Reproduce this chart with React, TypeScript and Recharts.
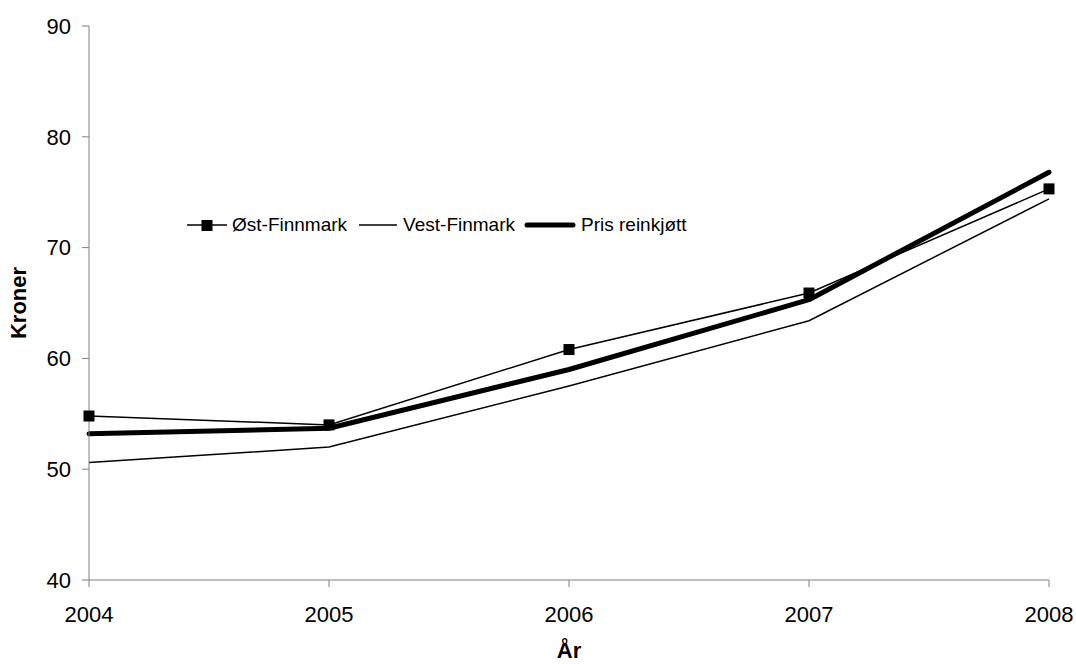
import { LineChart, Line, XAxis, YAxis, Legend } from "recharts";

const years = ["2004", "2005", "2006", "2007", "2008"];
const ostFinnmark = [54.8, 54.0, 60.8, 65.9, 75.3];
const vestFinnmark = [50.6, 52.0, 57.5, 63.4, 74.4];
const prisReinkjott = [53.2, 53.7, 59.0, 65.3, 76.8];
const yTicks = [40, 50, 60, 70, 80, 90];

const data = years.map((year, i) => ({
	year,
	ost: ostFinnmark[i],
	vest: vestFinnmark[i],
	pris: prisReinkjott[i],
}));

const FONT = "'Liberation Sans', Arial, sans-serif";
const AXIS_GRAY = "#808080";

function SquareDot(props: any) {
	const { cx, cy } = props;
	if (cx == null || cy == null) return null;
	return <rect x={cx - 5.5} y={cy - 5.5} width={11} height={11} fill="#000" />;
}

function ChartLegend() {
	const text = { fontSize: 19, fontFamily: FONT, color: "#000", lineHeight: "22px" };
	return (
		<div style={{ display: "flex", alignItems: "center" }}>
			<svg width={40} height={14}>
				<line x1={0} y1={7} x2={40} y2={7} stroke="#000" strokeWidth={1.5} />
				<rect x={14.5} y={2} width={11} height={11} fill="#000" />
			</svg>
			<span style={{ ...text, marginLeft: 5, marginRight: 12 }}>Øst-Finnmark</span>
			<svg width={38} height={14}>
				<line x1={0} y1={7} x2={38} y2={7} stroke="#000" strokeWidth={1.5} />
			</svg>
			<span style={{ ...text, marginLeft: 6, marginRight: 9 }}>Vest-Finmark</span>
			<svg width={52} height={14}>
				<line x1={3} y1={7} x2={49} y2={7} stroke="#000" strokeWidth={5} strokeLinecap="round" />
			</svg>
			<span style={{ ...text, marginLeft: 5 }}>Pris reinkjøtt</span>
		</div>
	);
}

export default function App() {
	return (
		<div style={{ position: "absolute", left: 0, top: 0, width: 1076, height: 664, background: "#fff" }}>
			<LineChart
				width={1076}
				height={664}
				data={data}
				margin={{ top: 26, right: 27, left: 0, bottom: 0 }}
			>
				<XAxis
					dataKey="year"
					height={84}
					stroke={AXIS_GRAY}
					tickSize={7}
					tickMargin={19}
					tick={{ fontSize: 22, fill: "#000", fontFamily: FONT }}
					label={{
						value: "År",
						position: "insideBottom",
						offset: 6,
						style: { fontSize: 22, fontWeight: "bold", fill: "#000", fontFamily: FONT },
					}}
				/>
				<YAxis
					width={89}
					domain={[40, 90]}
					ticks={yTicks}
					stroke={AXIS_GRAY}
					tickSize={7}
					tickMargin={11}
					tick={{ fontSize: 22, fill: "#000", fontFamily: FONT }}
					label={{
						value: "Kroner",
						angle: -90,
						position: "center",
						dx: -26,
						style: { fontSize: 22, fontWeight: "bold", fill: "#000", fontFamily: FONT },
					}}
				/>
				<Legend
					content={<ChartLegend />}
					wrapperStyle={{ top: 214, left: 187, width: "auto", height: 0, overflow: "visible" }}
				/>
				<Line
					dataKey="vest"
					stroke="#000"
					strokeWidth={1.5}
					dot={false}
					isAnimationActive={false}
				/>
				<Line
					dataKey="pris"
					stroke="#000"
					strokeWidth={5}
					strokeLinecap="round"
					strokeLinejoin="round"
					dot={false}
					isAnimationActive={false}
				/>
				<Line
					dataKey="ost"
					stroke="#000"
					strokeWidth={1.5}
					dot={<SquareDot />}
					isAnimationActive={false}
				/>
			</LineChart>
		</div>
	);
}
